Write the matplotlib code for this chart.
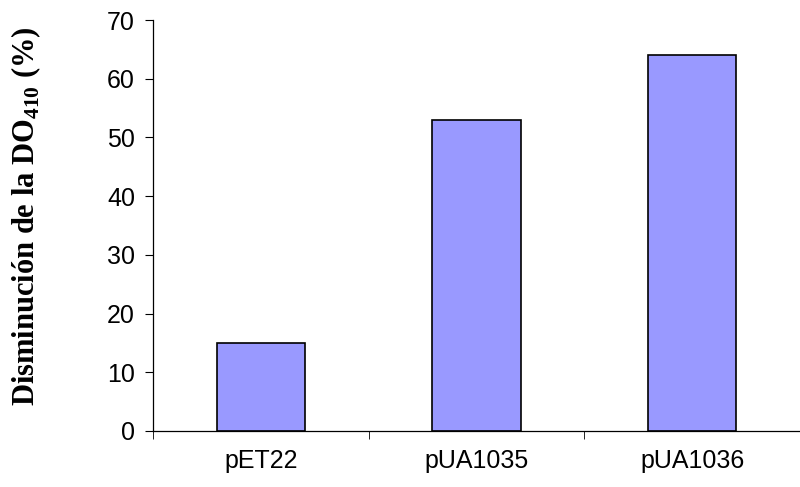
import matplotlib
matplotlib.use('Agg')
import matplotlib.pyplot as plt
import numpy as np

# Data ========================================================================
categories = ['pET22', 'pUA1035', 'pUA1036']
values = [15, 53, 64]
y_ticks = [0, 10, 20, 30, 40, 50, 60, 70]

plt.rc('font', family='Liberation Sans', size=18)
plt.rcParams['mathtext.fontset'] = 'custom'
plt.rcParams['mathtext.bf'] = 'Liberation Serif:bold'
plt.rcParams['mathtext.rm'] = 'Liberation Serif:bold'

fig = plt.figure(figsize=(8.0, 4.87), dpi=100)
ax = fig.add_axes([153 / 800, 1 - 431 / 487, 1 - 153 / 800, (431 - 20) / 487])

x = np.arange(len(categories))
ax.bar(x, values, width=0.41, color='#9999FF', edgecolor='black', linewidth=1.2)

ax.set_ylim(0, 70)
ax.set_xlim(-0.5, 2.475)
ax.set_yticks(y_ticks)
ax.set_xticks(x)
ax.set_xticklabels(categories)
ax.set_xticks(np.arange(len(categories) + 1) - 0.5, minor=True)

ax.tick_params(axis='x', which='major', length=0, pad=13)
ax.tick_params(axis='x', which='minor', length=6, direction='out')
ax.tick_params(axis='y', length=6, direction='out', pad=7)

for s in ['top', 'right']:
    ax.spines[s].set_visible(False)
for s in ['left', 'bottom']:
    ax.spines[s].set_linewidth(0.9)

fig.text(26 / 800, 1 - 216 / 487, r'Disminución de la DO$_{\mathbf{410}}$ (%)',
         family='Liberation Serif', fontweight='bold', fontsize=22,
         rotation=90, ha='center', va='center')

plt.savefig('out.png', dpi=100)
plt.close()
